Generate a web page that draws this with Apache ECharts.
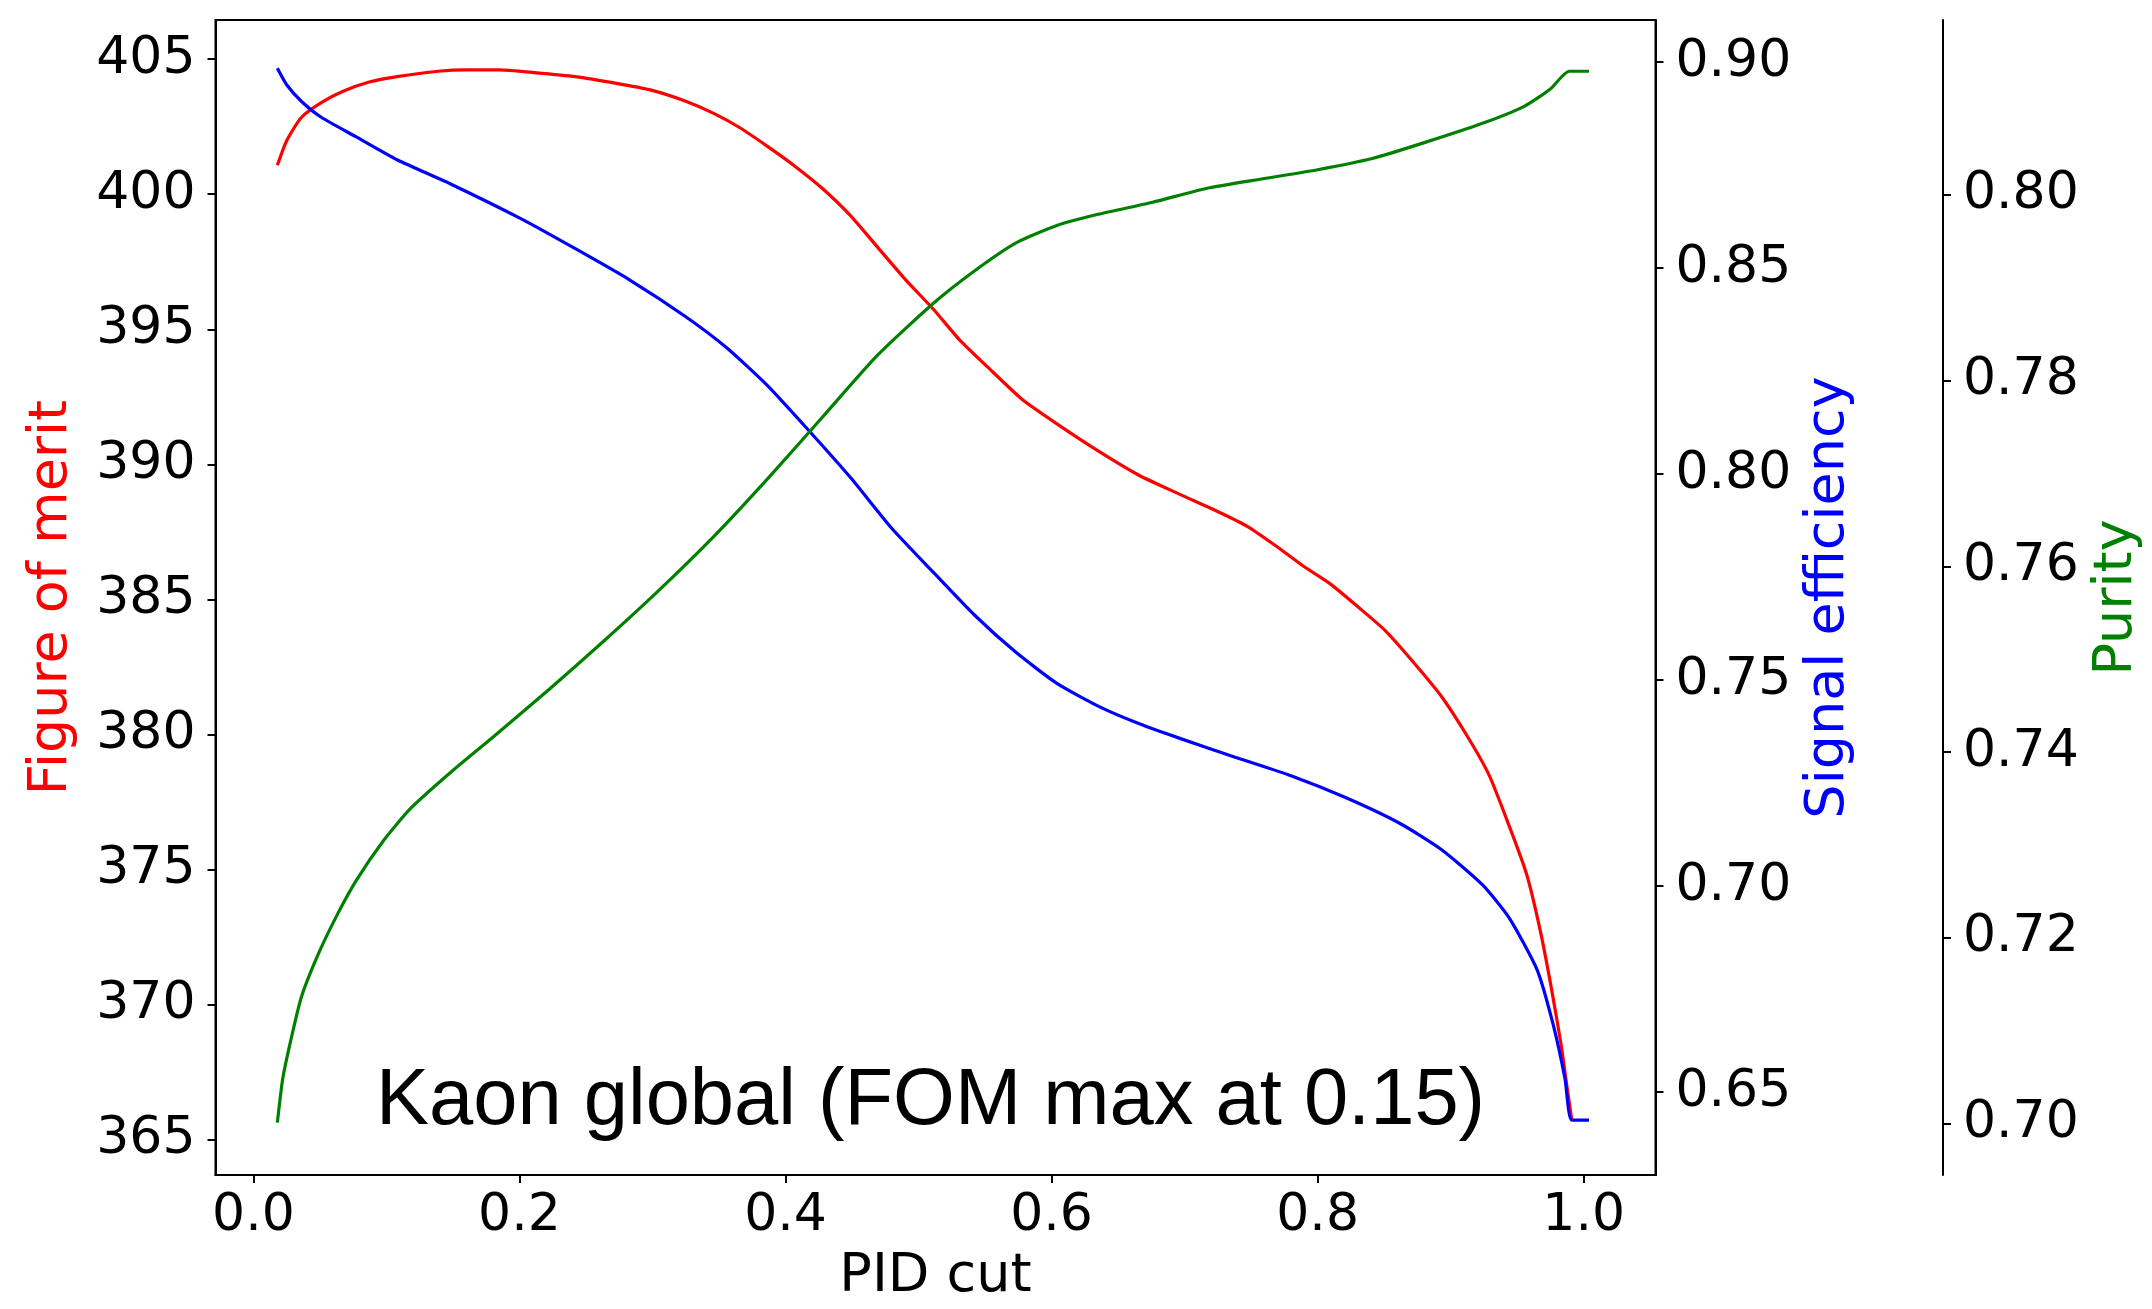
<!DOCTYPE html>
<html>
<head>
<meta charset="utf-8">
<script src="https://cdn.jsdelivr.net/npm/echarts@6/dist/echarts.min.js"></script>
<style>
html,body{margin:0;padding:0;background:#fff;}
#chart{width:2152px;height:1309px;}
</style>
</head>
<body>
<div id="chart"></div>
<script>
// ---- data (PID cut vs FOM / signal efficiency / purity) ----
const pidCutFom = [0.018,0.025,0.036,0.051,0.067,0.087,0.108,0.139,0.16,0.185,0.211,0.242,0.273,0.299,0.325,0.346,0.366,0.387,0.408,0.428,0.449,0.469,0.49,0.511,0.531,0.552,0.578,0.604,0.635,0.666,0.697,0.728,0.748,0.769,0.79,0.81,0.831,0.851,0.872,0.893,0.913,0.929,0.944,0.957,0.967,0.975,0.983,0.988,0.991];
const fom = [401.07,401.98,402.84,403.39,403.8,404.15,404.35,404.55,404.6,404.6,404.5,404.35,404.1,403.85,403.44,402.99,402.45,401.75,401.0,400.2,399.2,398.05,396.85,395.75,394.6,393.6,392.4,391.5,390.5,389.59,388.88,388.18,387.68,386.97,386.21,385.56,384.7,383.84,382.68,381.42,379.9,378.49,376.62,374.85,372.83,370.81,368.54,366.77,365.76];

const pidCutEff = [0.018,0.025,0.036,0.051,0.077,0.108,0.149,0.201,0.242,0.283,0.325,0.356,0.387,0.418,0.449,0.48,0.511,0.542,0.573,0.604,0.635,0.666,0.697,0.738,0.78,0.821,0.862,0.893,0.924,0.944,0.965,0.977,0.986,0.991,1.004];
const efficiency = [0.8985,0.8945,0.8905,0.8866,0.8819,0.8763,0.8703,0.862,0.8547,0.8471,0.8382,0.8306,0.8213,0.8104,0.7991,0.7868,0.7762,0.7658,0.7568,0.7492,0.7437,0.7394,0.7358,0.7313,0.7268,0.7215,0.7152,0.7089,0.7003,0.6923,0.6797,0.6665,0.6532,0.6432,0.6432];

const pidCutPur = [0.018,0.022,0.028,0.036,0.048,0.062,0.077,0.098,0.118,0.149,0.18,0.222,0.263,0.304,0.346,0.387,0.428,0.469,0.511,0.542,0.573,0.604,0.635,0.676,0.717,0.758,0.8,0.841,0.882,0.924,0.955,0.975,0.989,1.004];
const purity = [0.7001,0.7048,0.7089,0.7136,0.718,0.7222,0.7261,0.7305,0.7339,0.7379,0.7416,0.7467,0.7519,0.7573,0.7632,0.7695,0.7761,0.7827,0.7883,0.7918,0.7948,0.7967,0.7979,0.7992,0.8007,0.8017,0.8027,0.8039,0.8057,0.8077,0.8095,0.8114,0.8133,0.8133];

const xTicks = [0.0,0.2,0.4,0.6,0.8,1.0];
const fomTicks = [365,370,375,380,385,390,395,400,405];
const effTicks = [0.65,0.70,0.75,0.80,0.85,0.90];
const purTicks = [0.70,0.72,0.74,0.76,0.78,0.80];

const annotation = 'Kaon global (FOM max at 0.15)';

function pairs(xs, ys){ return xs.map((x,i)=>[x, ys[i]]); }

const TICK_FONT = 'DejaVu Sans';
const TICK_SIZE = 52;
const NAME_SIZE = 54;
const axisLineStyle = {color:'#000', width:2};
const tickStyle = {show:true, length:8, inside:false, lineStyle:{color:'#000', width:2}};
const yLabelBase = {fontFamily:TICK_FONT, fontSize:TICK_SIZE, color:'#000', margin:20, padding:[10,0,0,0]};

const chart = echarts.init(document.getElementById('chart'), null, {renderer:'canvas'});
const option = {
  animation:false,
  backgroundColor:'#fff',
  grid:{left:215.5, right:496.5, top:20, bottom:128, show:true, borderColor:'#000', borderWidth:2, containLabel:false},
  xAxis:{
    type:'value', min:-0.0285, max:1.054,
    name:'PID cut', nameLocation:'middle', nameGap:75,
    nameTextStyle:{fontFamily:TICK_FONT, fontSize:NAME_SIZE, color:'#000'},
    axisLine:{show:true, onZero:false, lineStyle:axisLineStyle},
    axisTick:Object.assign({customValues:xTicks}, tickStyle),
    axisLabel:{customValues:xTicks, fontFamily:TICK_FONT, fontSize:TICK_SIZE, color:'#000', margin:15, formatter:v=>v.toFixed(1)},
    splitLine:{show:false}
  },
  yAxis:[
    {
      type:'value', position:'left', min:363.70, max:406.447,
      name:'Figure of merit', nameLocation:'middle', nameGap:136.5, nameRotate:90,
      nameTextStyle:{fontFamily:TICK_FONT, fontSize:NAME_SIZE, color:'#ff0000'},
      axisLine:{show:true, onZero:false, lineStyle:axisLineStyle},
      axisTick:Object.assign({customValues:fomTicks}, tickStyle),
      axisLabel:Object.assign({customValues:fomTicks, formatter:v=>String(Math.round(v))}, yLabelBase),
      splitLine:{show:false}
    },
    {
      type:'value', position:'right', min:0.62989, max:0.91021,
      name:'Signal efficiency', nameLocation:'middle', nameGap:139.5, nameRotate:90,
      nameTextStyle:{fontFamily:TICK_FONT, fontSize:NAME_SIZE, color:'#0000ff'},
      axisLine:{show:true, onZero:false, lineStyle:axisLineStyle},
      axisTick:Object.assign({customValues:effTicks}, tickStyle),
      axisLabel:Object.assign({customValues:effTicks, formatter:v=>v.toFixed(2)}, yLabelBase),
      splitLine:{show:false}
    },
    {
      type:'value', position:'right', offset:287.5, min:0.69446, max:0.81882,
      name:'Purity', nameLocation:'middle', nameGap:146.5, nameRotate:90,
      nameTextStyle:{fontFamily:TICK_FONT, fontSize:NAME_SIZE, color:'#008000'},
      axisLine:{show:true, onZero:false, lineStyle:axisLineStyle},
      axisTick:Object.assign({customValues:purTicks}, tickStyle),
      axisLabel:Object.assign({customValues:purTicks, formatter:v=>v.toFixed(2)}, yLabelBase),
      splitLine:{show:false}
    }
  ],
  series:[
    {type:'line', yAxisIndex:0, data:pairs(pidCutFom, fom), showSymbol:false, smooth:0.2, lineStyle:{color:'#ff0000', width:3.2}, z:2},
    {type:'line', yAxisIndex:1, data:pairs(pidCutEff, efficiency), showSymbol:false, smooth:0.2, lineStyle:{color:'#0000ff', width:3.2}, z:3},
    {type:'line', yAxisIndex:2, data:pairs(pidCutPur, purity), showSymbol:false, smooth:0.2, lineStyle:{color:'#008000', width:3.2}, z:4}
  ],
  graphic:[
    {type:'text', left:376, top:1062, z:10, style:{text:annotation, font:'79.5px "Liberation Sans", Arial, sans-serif', fill:'#000'}}
  ]
};
chart.setOption(option);
</script>
</body>
</html>
